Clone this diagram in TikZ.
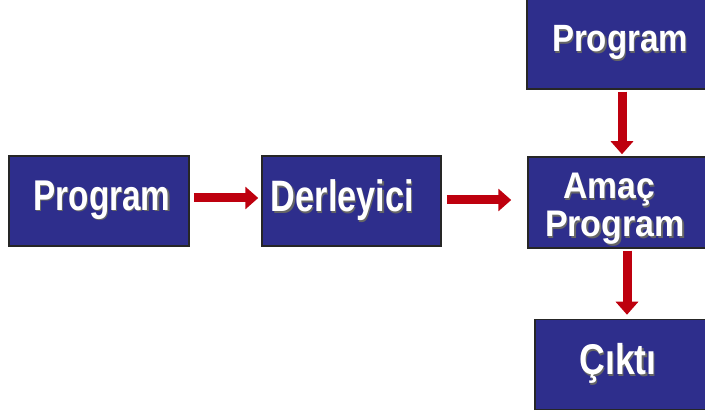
\documentclass[tikz,border=0pt]{standalone}
\usepackage{fontspec}
\setmainfont{Liberation Sans}
\usetikzlibrary{arrows.meta}
\definecolor{boxblue}{RGB}{46,46,140}
\definecolor{arrred}{RGB}{190,0,14}
\newcommand\shadowed[1]{\makebox[0pt][l]{\hspace{1.5pt}\raisebox{-1.5pt}{\color{black!60}#1}}#1}
\newcommand\lbl[3]{\scalebox{#1}[1]{\fontsize{#2}{#2}\selectfont\bfseries\shadowed{#3}}}
\begin{document}
\begin{tikzpicture}[x=1pt,y=1pt,
  blk/.style={draw=black!85, line width=1.5pt, fill=boxblue, text=white, inner sep=0pt},
  conn/.style={draw=arrred, line width=9pt, -{Triangle[width=22pt,length=13pt]}}]
\useasboundingbox (0,0) rectangle (705,-414);
\clip (0,0) rectangle (705,-414);
\fill[white] (0,0) rectangle (705,-414);

\node[blk, minimum width=180pt, minimum height=90pt] (P1) at (99,-201)
  {\hspace*{6pt}\lbl{0.775}{43}{Program}};
\node[blk, minimum width=179pt, minimum height=90pt] (D) at (351.5,-201)
  {\hspace*{-18pt}\lbl{0.78}{44}{Derleyici}};
\node[blk, minimum width=183pt, minimum height=91pt] (P2) at (618.5,-43.5)
  {\hspace*{3pt}\lbl{0.87}{38}{Program}};
\node[blk, minimum width=182pt, minimum height=91pt] (A) at (619,-202.5) {};
\node[text=white, inner sep=0pt, align=center, font=\fontsize{37}{38}\selectfont]
  (Atxt) at ([xshift=-4pt,yshift=-7pt]A.center)
  {\hspace*{-12pt}\lbl{0.91}{37}{Amaç}\\\lbl{0.92}{37}{Program}};
\node[blk, minimum width=175pt, minimum height=90pt] (C) at (622.5,-364.5)
  {\hspace*{-9pt}\lbl{0.83}{43}{Çıktı}};

\draw[conn, shorten <=4pt, shorten >=3pt] ([yshift=3pt]P1.east) -- ([yshift=3pt]D.west);
\draw[conn, shorten <=5pt, shorten >=16pt] ([yshift=1pt]D.east) -- ([yshift=1pt]D.east -| A.west);
\draw[conn, shorten <=2pt, shorten >=2pt] ([xshift=3.5pt]P2.south) -- ([xshift=3.5pt]P2.south |- A.north);
\draw[conn, shorten <=2pt, shorten >=4pt] ([xshift=8pt]A.south) -- ([xshift=8pt]A.south |- C.north);
\end{tikzpicture}
\end{document}
